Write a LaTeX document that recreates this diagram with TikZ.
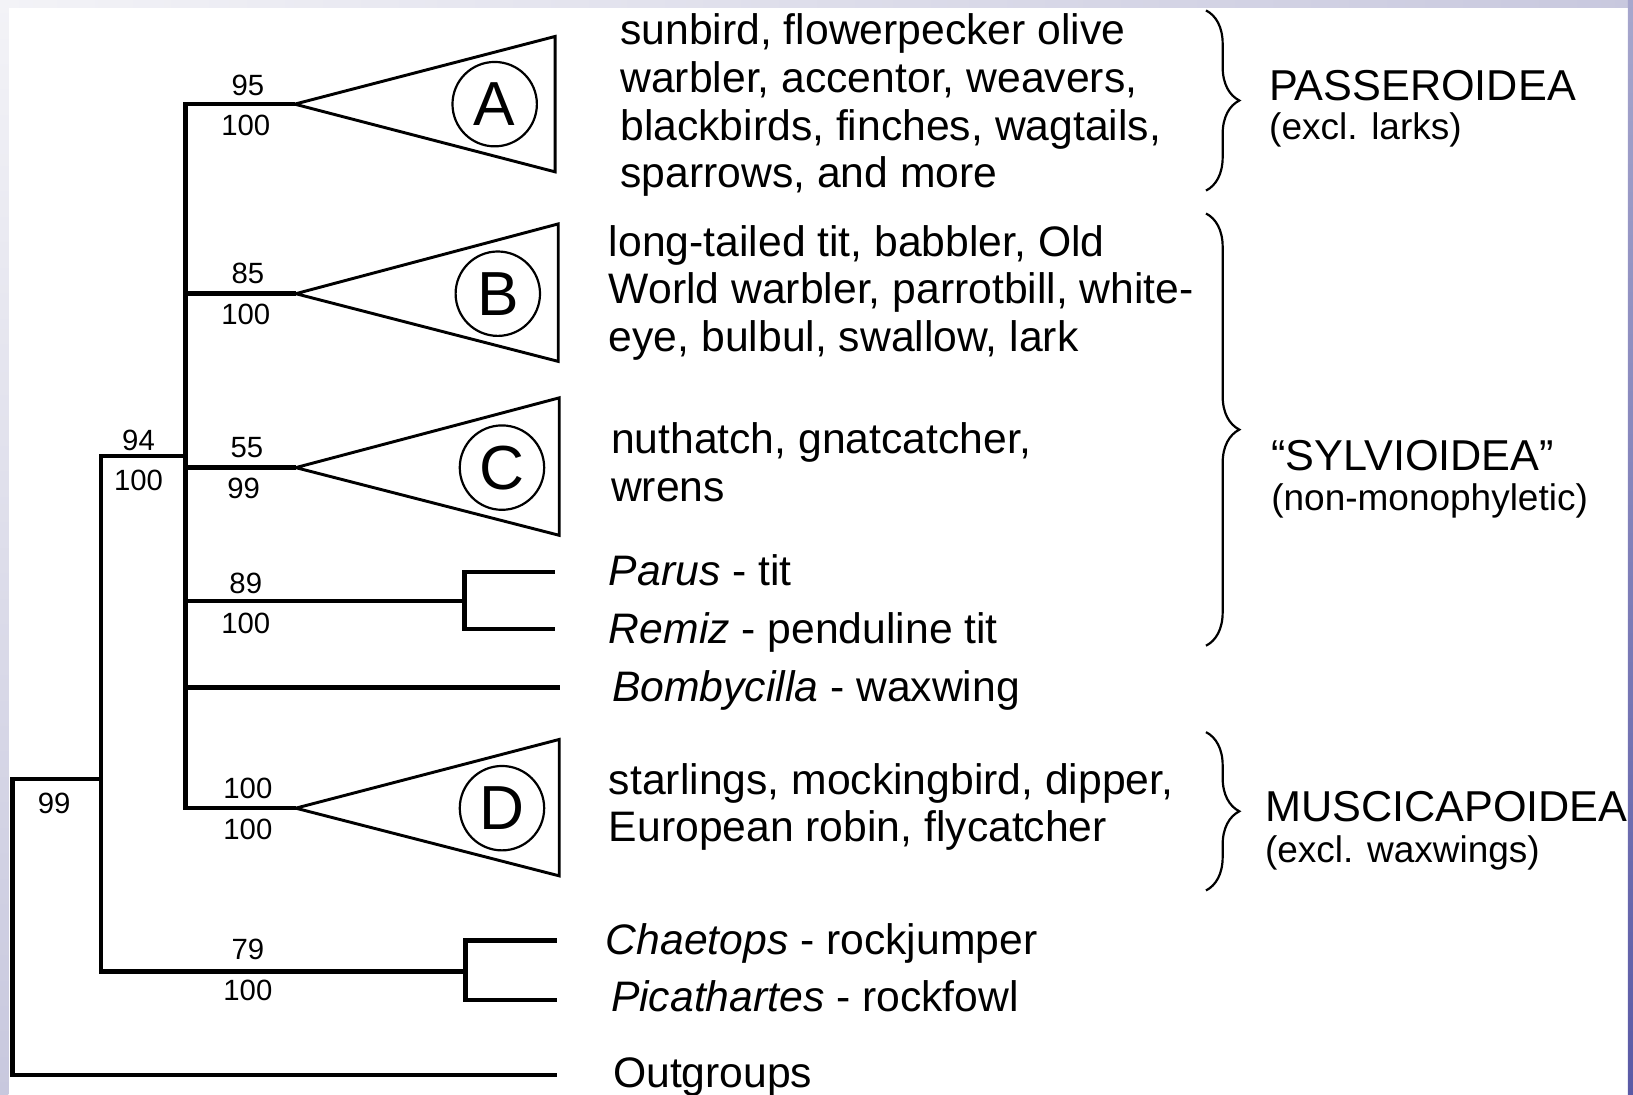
\documentclass[tikz,border=0pt]{standalone}
\usepackage{fontspec}
\setmainfont{Liberation Sans}
\usetikzlibrary{calc,positioning,decorations.pathreplacing}
\definecolor{phyloedge}{HTML}{5A5AA6}
\definecolor{phylolav}{HTML}{C8C8DE}
\definecolor{phylomist}{HTML}{F3F3F7}
\tikzset{%
  phyloline/.style={draw=black,line width=1.2pt},
  phylotri/.style={draw=black,line width=0.8pt,line join=miter},
  phyloletter/.style={%
    circle,
    draw=black,
    line width=0.6pt,
    minimum size=8.1mm,
    inner sep=0pt,
    font=\fontsize{17}{17}\selectfont
  },
  phylonum/.style={inner sep=0pt,font=\fontsize{8}{8}\selectfont},
  phylotext/.style={anchor=west,align=left,inner sep=0pt,font=\fontsize{11.65}{13}\selectfont},
  phylotaxon/.style={anchor=west,inner sep=0pt,text height=8.2pt,text depth=0pt,font=\fontsize{11.65}{13}\selectfont},
  phylogroup/.style={anchor=west,inner sep=0pt,text height=8.3pt,text depth=0pt,font=\fontsize{11.8}{13}\selectfont},
  phylonote/.style={anchor=west,inner sep=0pt,font=\fontsize{10.1}{12}\selectfont},
  phylobrace/.style={draw=black,line width=0.6pt,decorate,decoration={brace,amplitude=3.2mm}}
}
\begin{document}
\begin{tikzpicture}[x=0.01cm,y=-0.01cm]
    \useasboundingbox (0,0) rectangle (1568,1051);

    \coordinate (nRoot) at (12,748);
    \coordinate (nIn) at (97,748);
    \coordinate (nCore) at (178,438);
    \coordinate (nParus) at (446,577);
    \coordinate (nPica) at (447,933);
    \coordinate (apA) at (283,100);
    \coordinate (apB) at (284,282);
    \coordinate (apC) at (284,449);
    \coordinate (apD) at (284,776);
    \coordinate (tParus) at (533,549);
    \coordinate (tRemiz) at (533,604);
    \coordinate (tBomb) at (538,660);
    \coordinate (tChae) at (535,903);
    \coordinate (tPica) at (535,960);
    \coordinate (tOut) at (535,1032);

    \draw[phyloline] (nIn) -- (nRoot) |- (tOut);
    \draw[phyloline] (nIn) |- (nCore);
    \draw[phyloline] (nIn) |- (nPica);
    \draw[phyloline] (nCore) |- (apA);
    \draw[phyloline] (nCore) |- (apB);
    \draw[phyloline] (nCore) |- (apC);
    \draw[phyloline] (nCore) |- (nParus);
    \draw[phyloline] (nCore) |- (tBomb);
    \draw[phyloline] (nCore) |- (apD);
    \draw[phyloline] (nParus) |- (tParus);
    \draw[phyloline] (nParus) |- (tRemiz);
    \draw[phyloline] (nPica) |- (tChae);
    \draw[phyloline] (nPica) |- (tPica);

    \draw[phylotri] (apA) -- ++(250,-65) -- ++(0,130) -- cycle;
    \draw[phylotri] (apB) -- ++(252,-67) -- ++(0,132) -- cycle;
    \draw[phylotri] (apC) -- ++(253,-67) -- ++(0,132) -- cycle;
    \draw[phylotri] (apD) -- ++(253,-66) -- ++(0,131) -- cycle;
    \node[phyloletter] (cA) at ($(apA)+(192,0)$) {A};
    \node[phyloletter] (cB) at ($(apB)+(194,0)$) {B};
    \node[phyloletter] (cC) at ($(apC)+(198,0)$) {C};
    \node[phyloletter] (cD) at ($(apD)+(198,0)$) {D};

    \node[phylonum] (bs99) at (52,771) {99};
    \node[phylonum] (bs94) at (133,423) {94};
    \node[phylonum] (pp94) at (133,461) {100};
    \node[phylonum] (bsA) at (238,82) {95};
    \node[phylonum] (ppA) at (236,120) {100};
    \node[phylonum] (bsB) at (238,263) {85};
    \node[phylonum] (ppB) at (236,302) {100};
    \node[phylonum] (bsC) at (237,430) {55};
    \node[phylonum] (ppC) at (234,469) {99};
    \node[phylonum] (bsParus) at (236,560) {89};
    \node[phylonum] (ppParus) at (236,599) {100};
    \node[phylonum] (bsD) at (238,757) {100};
    \node[phylonum] (ppD) at (238,796) {100};
    \node[phylonum] (bsPica) at (238,912) {79};
    \node[phylonum] (ppPica) at (238,951) {100};

    \node[phylotext] (txA) at (595,101) {sunbird, flowerpecker olive\\warbler, accentor, weavers,\\blackbirds, finches, wagtails,\\sparrows, and more};
    \node[phylotext] (txB) at (584,281) {long-tailed tit, babbler, Old\\World warbler, parrotbill, white-\\eye, bulbul, swallow, lark};
    \node[phylotext] (txC) at (586,444) {nuthatch, gnatcatcher,\\wrens};
    \node[phylotaxon] (txParus) at (584,548) {\textit{Parus} - tit};
    \node[phylotaxon] (txRemiz) at (584,603) {\textit{Remiz} - penduline tit};
    \node[phylotaxon] (txBomb) at (587,659) {\textit{Bombycilla} - waxwing};
    \node[phylotext] (txD) at (584,775) {starlings, mockingbird, dipper,\\European robin, flycatcher};
    \node[phylotaxon] (txChae) at (581,902) {\textit{Chaetops} - rockjumper};
    \node[phylotaxon] (txPica) at (586,957) {\textit{Picathartes} - rockfowl};
    \node[phylotaxon] (txOut) at (588,1030) {Outgroups};

    \draw[phylobrace] (1158,10) -- (1158,183);
    \draw[phylobrace] (1158,205) -- (1158,620);
    \draw[phylobrace] (1158,703) -- (1158,855);

    \node[phylogroup] (gPass) at (1218,82) {PASSEROIDEA};
    \node[phylonote] (nPass) at (1218,125) {(excl. larks)};
    \node[phylogroup] (gSylv) at (1220,437) {“SYLVIOIDEA”};
    \node[phylonote] (nSylv) at (1220,481) {(non-monophyletic)};
    \node[phylogroup] (gMusc) at (1214,774) {MUSCICAPOIDEA};
    \node[phylonote] (nMusc) at (1214,819) {(excl. waxwings)};

    \shade[left color=phylomist,right color=phylolav] (0,0) rectangle (1568,7);
    \shade[top color=phylomist,bottom color=phylolav] (0,0) rectangle (8,1051);
    \shade[top color=phylolav!70!phyloedge,bottom color=phyloedge] (1563,0) rectangle (1568,1051);
  \end{tikzpicture}
\end{document}
